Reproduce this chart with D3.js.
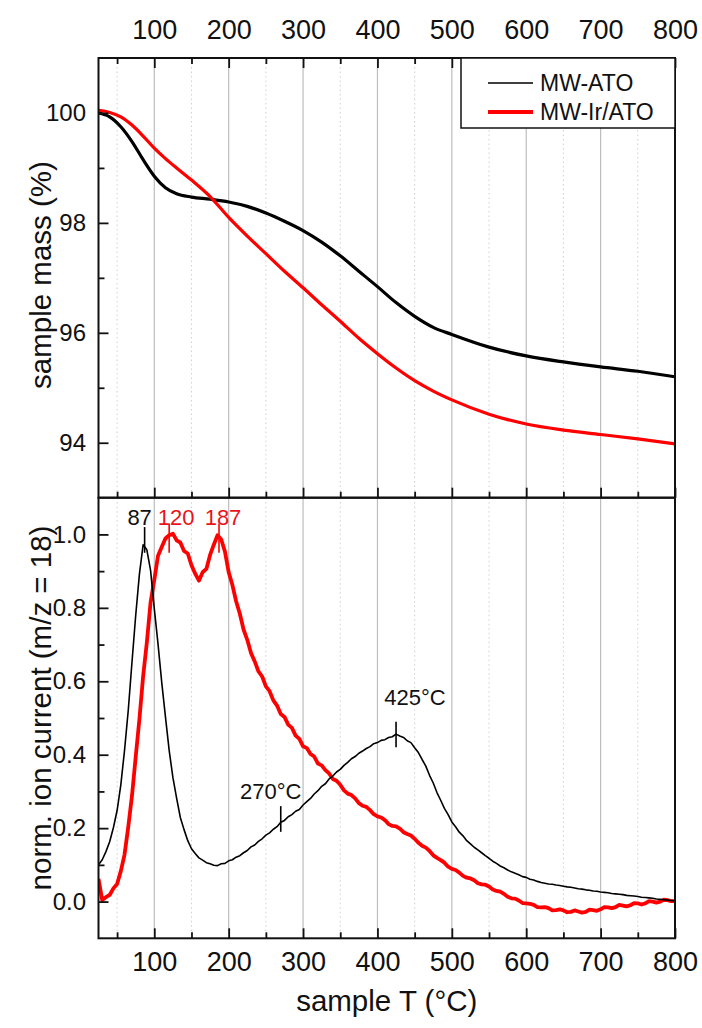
<!DOCTYPE html>
<html>
<head>
<meta charset="utf-8">
<script src="https://cdn.jsdelivr.net/npm/d3@7"></script>
<style>
  html, body { margin: 0; padding: 0; background: #fff; }
  svg { display: block; font-family: "Liberation Sans", Arial, sans-serif; }
</style>
</head>
<body>
<svg id="chart" width="702" height="1028"></svg>
<script>
// ---- TGA: sample mass (%) vs temperature ----
const massTemps = [25, 40, 55, 70, 85, 100, 115, 130, 150, 175, 200, 225, 250, 275, 300,
  325, 350, 375, 400, 425, 450, 475, 500, 550, 600, 650, 700, 750, 800];
const massATO = [100.00, 99.93, 99.75, 99.48, 99.15, 98.85, 98.64, 98.53, 98.47, 98.43, 98.38,
  98.30, 98.18, 98.03, 97.86, 97.65, 97.40, 97.12, 96.84, 96.55, 96.30, 96.10, 95.97,
  95.74, 95.58, 95.47, 95.38, 95.30, 95.20];
const massIrATO = [100.05, 100.01, 99.93, 99.78, 99.58, 99.36, 99.17, 99.00, 98.78, 98.48, 98.10,
  97.76, 97.44, 97.12, 96.82, 96.51, 96.21, 95.90, 95.62, 95.36, 95.13, 94.94, 94.78,
  94.52, 94.34, 94.23, 94.15, 94.07, 93.98];

// ---- MS: normalised ion current m/z = 18, sampled every 5 °C ----
const ionTemps = [25, 30, 35, 40, 45, 50, 55, 60, 65, 70, 75, 80, 85, 90, 95, 100, 105, 110, 115, 120,
  125, 130, 135, 140, 145, 150, 155, 160, 165, 170, 175, 180, 185, 190, 195, 200, 205, 210, 215, 220,
  225, 230, 235, 240, 245, 250, 255, 260, 265, 270, 275, 280, 285, 290, 295, 300, 305, 310, 315, 320,
  325, 330, 335, 340, 345, 350, 355, 360, 365, 370, 375, 380, 385, 390, 395, 400, 405, 410, 415, 420,
  425, 430, 435, 440, 445, 450, 455, 460, 465, 470, 475, 480, 485, 490, 495, 500, 505, 510, 515, 520,
  525, 530, 535, 540, 545, 550, 555, 560, 565, 570, 575, 580, 585, 590, 595, 600, 605, 610, 615, 620,
  625, 630, 635, 640, 645, 650, 655, 660, 665, 670, 675, 680, 685, 690, 695, 700, 705, 710, 715, 720,
  725, 730, 735, 740, 745, 750, 755, 760, 765, 770, 775, 780, 785, 790, 795, 800];
const ionATO = [0.100, 0.114, 0.136, 0.163, 0.201, 0.248, 0.318, 0.412, 0.521, 0.652, 0.779, 0.892, 0.972,
  0.958, 0.902, 0.798, 0.702, 0.597, 0.503, 0.412, 0.338, 0.282, 0.229, 0.196, 0.166, 0.144, 0.131,
  0.119, 0.113, 0.106, 0.103, 0.099, 0.098, 0.103, 0.104, 0.111, 0.114, 0.121, 0.125, 0.133, 0.139,
  0.149, 0.154, 0.164, 0.171, 0.181, 0.187, 0.197, 0.204, 0.216, 0.221, 0.231, 0.237, 0.246, 0.251, 0.263,
  0.272, 0.281, 0.293, 0.302, 0.314, 0.321, 0.334, 0.342, 0.353, 0.360, 0.371, 0.379, 0.389, 0.395,
  0.404, 0.410, 0.417, 0.422, 0.430, 0.433, 0.439, 0.441, 0.447, 0.449, 0.456, 0.451, 0.447, 0.438,
  0.433, 0.419, 0.406, 0.387, 0.369, 0.344, 0.323, 0.297, 0.276, 0.254, 0.237, 0.217, 0.204, 0.189,
  0.179, 0.166, 0.157, 0.148, 0.141, 0.133, 0.125, 0.118, 0.110, 0.104, 0.097, 0.092, 0.086, 0.081,
  0.077, 0.073, 0.068, 0.066, 0.061, 0.059, 0.055, 0.052, 0.050, 0.048, 0.047, 0.045, 0.044, 0.042,
  0.040, 0.039, 0.037, 0.035, 0.034, 0.032, 0.031, 0.029, 0.028, 0.026, 0.025, 0.024, 0.022, 0.021,
  0.020, 0.019, 0.017, 0.016, 0.015, 0.014, 0.012, 0.011, 0.010, 0.009, 0.007, 0.006, 0.005, 0.004,
  0.003, 0.002];
const ionIrATO = [0.062, 0.004, 0.012, 0.018, 0.036, 0.048, 0.083, 0.128, 0.203, 0.288, 0.394, 0.497, 0.614,
  0.706, 0.815, 0.876, 0.942, 0.966, 0.989, 0.998, 1.002, 0.984, 0.978, 0.955, 0.948, 0.916, 0.893,
  0.874, 0.897, 0.906, 0.944, 0.972, 0.998, 0.986, 0.953, 0.897, 0.862, 0.818, 0.784, 0.741, 0.713,
  0.677, 0.654, 0.627, 0.613, 0.586, 0.573, 0.548, 0.534, 0.511, 0.503, 0.482, 0.473, 0.452, 0.443, 0.423,
  0.418, 0.402, 0.395, 0.376, 0.371, 0.358, 0.349, 0.334, 0.329, 0.318, 0.303, 0.294, 0.290, 0.281,
  0.268, 0.261, 0.258, 0.249, 0.238, 0.232, 0.229, 0.222, 0.211, 0.206, 0.205, 0.199, 0.189, 0.184,
  0.180, 0.171, 0.160, 0.152, 0.147, 0.138, 0.126, 0.119, 0.113, 0.106, 0.095, 0.089, 0.086, 0.079,
  0.070, 0.065, 0.063, 0.058, 0.050, 0.047, 0.046, 0.041, 0.033, 0.029, 0.027, 0.021, 0.013, 0.009,
  0.008, 0.003, -0.004, -0.005, -0.006, -0.009, -0.015, -0.016, -0.015, -0.018, -0.024, -0.023, -0.021,
  -0.024, -0.029, -0.028, -0.024, -0.027, -0.030, -0.028, -0.022, -0.023, -0.025, -0.021, -0.015,
  -0.016, -0.018, -0.015, -0.009, -0.011, -0.013, -0.010, -0.004, -0.005, -0.008, -0.005, 0.001,
  0.000, -0.003, 0.000, 0.005, 0.004, 0.001, 0.001];

// peak markers: temperature, marker centre value, label, series
const peakTemps = [87, 120, 187, 270, 425];
const peakValues = [0.985, 0.99, 0.99, 0.225, 0.455];
const peakLabels = ["87", "120", "187", "270°C", "425°C"];
const peakSeries = ["ATO", "IrATO", "IrATO", "ATO", "ATO"];

// axis ticks
const tempMajor = [100, 200, 300, 400, 500, 600, 700, 800];
const tempMinor = [50, 150, 250, 350, 450, 550, 650, 750];
const massMajor = [94, 96, 98, 100];
const massMinor = [95, 97, 99];
const ionMajor = [0.0, 0.2, 0.4, 0.6, 0.8, 1.0];
const ionMinor = [0.1, 0.3, 0.5, 0.7, 0.9];

const seriesNames = ["MW-ATO", "MW-Ir/ATO"];
const colorATO = "#000000";
const colorIr = "#ff0000";

// ---- layout ----
const L = 98.5, R = 675, T1 = 58, MID = 497.7, B2 = 938.3;
const FONT = "Liberation Sans, Arial, sans-serif";
const svg = d3.select("#chart");

const x = d3.scaleLinear().domain([25, 800]).range([L, R]);
const yMass = d3.scaleLinear().domain([93, 101]).range([MID, T1]);
const yIon = d3.scaleLinear().domain([-0.1, 1.1]).range([B2, MID]);

const defs = svg.append("defs");
defs.append("clipPath").attr("id", "clipTop")
  .append("rect").attr("x", L).attr("y", T1).attr("width", R - L).attr("height", MID - T1);
defs.append("clipPath").attr("id", "clipBot")
  .append("rect").attr("x", L).attr("y", MID).attr("width", R - L).attr("height", B2 - MID);

// vertical grid lines in both panels
function grid(y0, y1) {
  const g = svg.append("g");
  g.selectAll("line.maj").data(tempMajor.filter(d => d < 800)).join("line")
    .attr("x1", d => x(d)).attr("x2", d => x(d)).attr("y1", y0).attr("y2", y1)
    .attr("stroke", "#bdbdbd").attr("stroke-width", 1.2);
  g.selectAll("line.min").data(tempMinor).join("line")
    .attr("x1", d => x(d)).attr("x2", d => x(d)).attr("y1", y0).attr("y2", y1)
    .attr("stroke", "#cfcfcf").attr("stroke-width", 1).attr("stroke-dasharray", "1.5,3");
}
grid(T1, MID);
grid(MID, B2);

// ---- top panel curves ----
const lineMass = (vals) => d3.line()
  .x((d, i) => x(massTemps[i])).y(d => yMass(d))
  .curve(d3.curveMonotoneX)(vals);

const topG = svg.append("g").attr("clip-path", "url(#clipTop)");
topG.append("path").attr("d", lineMass(massATO))
  .attr("fill", "none").attr("stroke", colorATO).attr("stroke-width", 3.2);
topG.append("path").attr("d", lineMass(massIrATO))
  .attr("fill", "none").attr("stroke", colorIr).attr("stroke-width", 3.2);

// ---- bottom panel curves ----
const lineIon = (vals) => d3.line()
  .x((d, i) => x(ionTemps[i])).y(d => yIon(d))(vals);

const botG = svg.append("g").attr("clip-path", "url(#clipBot)");
botG.append("path").attr("d", lineIon(ionIrATO))
  .attr("fill", "none").attr("stroke", colorIr).attr("stroke-width", 3.8)
  .attr("stroke-linejoin", "round");
botG.append("path").attr("d", lineIon(ionATO))
  .attr("fill", "none").attr("stroke", colorATO).attr("stroke-width", 1.6)
  .attr("stroke-linejoin", "round");

// peak markers and labels
const markerHalf = [0.035, 0.04, 0.04, 0.035, 0.035];
const labelDx = [-5, 7, 4, -10, 19];
const labelY = [525, 525, 525, 799, 705];
peakTemps.forEach((t, i) => {
  const col = peakSeries[i] === "ATO" ? colorATO : colorIr;
  svg.append("line")
    .attr("x1", x(t)).attr("x2", x(t))
    .attr("y1", yIon(peakValues[i] + markerHalf[i])).attr("y2", yIon(peakValues[i] - markerHalf[i]))
    .attr("stroke", col).attr("stroke-width", 1.6);
  svg.append("text")
    .attr("x", x(t) + labelDx[i]).attr("y", labelY[i])
    .attr("text-anchor", "middle").attr("font-size", 22)
    .attr("fill", col === colorIr ? "#e8141a" : "#111")
    .text(peakLabels[i]);
});

// ---- axes ----
function cleanAxis(g) { g.select(".domain").remove(); g.selectAll("text").attr("fill", "#111"); }

// top x axis with labels (ticks pointing inward)
svg.append("g").attr("transform", `translate(0,${T1})`)
  .call(d3.axisTop(x).tickValues(tempMajor).tickSize(-10).tickPadding(19).tickFormat(d3.format("d")))
  .call(cleanAxis)
  .call(g => g.selectAll("text").attr("font-size", 27).attr("font-family", FONT));
svg.append("g").attr("transform", `translate(0,${T1})`)
  .call(d3.axisTop(x).tickValues(tempMinor).tickSize(-6).tickFormat(""))
  .call(cleanAxis);

// ticks on the panel divider (belong to the top panel)
svg.append("g").attr("transform", `translate(0,${MID})`)
  .call(d3.axisBottom(x).tickValues(tempMajor).tickSize(-10).tickFormat(""))
  .call(cleanAxis);
svg.append("g").attr("transform", `translate(0,${MID})`)
  .call(d3.axisBottom(x).tickValues(tempMinor).tickSize(-6).tickFormat(""))
  .call(cleanAxis);

// bottom x axis with labels
svg.append("g").attr("transform", `translate(0,${B2})`)
  .call(d3.axisBottom(x).tickValues(tempMajor).tickSize(-10).tickPadding(13.5).tickFormat(d3.format("d")))
  .call(cleanAxis)
  .call(g => g.selectAll("text").attr("font-size", 27).attr("font-family", FONT));
svg.append("g").attr("transform", `translate(0,${B2})`)
  .call(d3.axisBottom(x).tickValues(tempMinor).tickSize(-6).tickFormat(""))
  .call(cleanAxis);

// left y axes
svg.append("g").attr("transform", `translate(${L},0)`)
  .call(d3.axisLeft(yMass).tickValues(massMajor).tickSize(-10).tickPadding(12.5).tickFormat(d3.format("d")))
  .call(cleanAxis)
  .call(g => g.selectAll("text").attr("font-size", 24).attr("font-family", FONT));
svg.append("g").attr("transform", `translate(${L},0)`)
  .call(d3.axisLeft(yMass).tickValues(massMinor).tickSize(-6).tickFormat(""))
  .call(cleanAxis);
svg.append("g").attr("transform", `translate(${L},0)`)
  .call(d3.axisLeft(yIon).tickValues(ionMajor).tickSize(-10).tickPadding(12.5).tickFormat(d3.format(".1f")))
  .call(cleanAxis)
  .call(g => g.selectAll("text").attr("font-size", 24).attr("font-family", FONT));
svg.append("g").attr("transform", `translate(${L},0)`)
  .call(d3.axisLeft(yIon).tickValues(ionMinor).tickSize(-6).tickFormat(""))
  .call(cleanAxis);

svg.selectAll(".tick line").attr("stroke", "#111").attr("stroke-width", 1.8);

// panel frames
[[T1, MID], [MID, B2]].forEach(([a, b]) => {
  svg.append("rect").attr("x", L).attr("y", a).attr("width", R - L).attr("height", b - a)
    .attr("fill", "none").attr("stroke", "#111").attr("stroke-width", 2);
});

// legend
const lg = svg.append("g");
lg.append("rect").attr("x", 461).attr("y", T1).attr("width", R - 461).attr("height", 70)
  .attr("fill", "#fff").attr("stroke", "#111").attr("stroke-width", 1.5);
const legendColors = [colorATO, colorIr];
const legendWidths = [1.6, 4];
seriesNames.forEach((name, i) => {
  const yy = 83 + i * 29;
  lg.append("line").attr("x1", 488).attr("x2", 533).attr("y1", yy).attr("y2", yy)
    .attr("stroke", legendColors[i]).attr("stroke-width", legendWidths[i]);
  lg.append("text").attr("x", 540).attr("y", yy).attr("dy", "0.36em")
    .attr("font-size", 23).attr("fill", "#111").text(name);
});

// axis titles
svg.append("text").attr("transform", "translate(51,275) rotate(-90)")
  .attr("text-anchor", "middle").attr("font-size", 29.5).attr("fill", "#111").text("sample mass (%)");
svg.append("text").attr("transform", "translate(51,708) rotate(-90)")
  .attr("text-anchor", "middle").attr("font-size", 29.5).attr("fill", "#111").text("norm. ion current (m/z = 18)");
svg.append("text").attr("x", (L + R) / 2).attr("y", 1011)
  .attr("text-anchor", "middle").attr("font-size", 29.5).attr("fill", "#111").text("sample T (°C)");
</script>
</body>
</html>
